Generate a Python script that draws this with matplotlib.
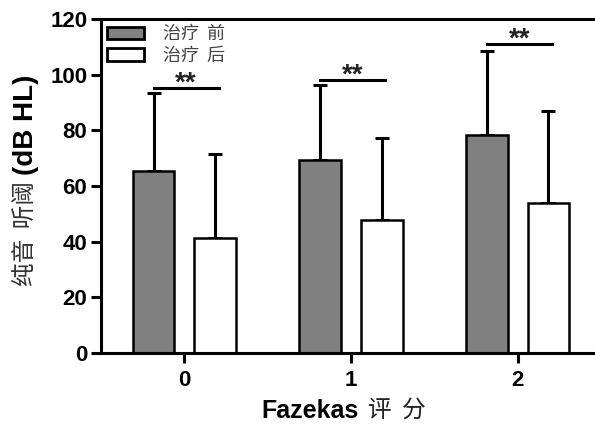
import numpy as np
import matplotlib.pyplot as plt
from matplotlib.patches import Patch

plt.rcParams["font.family"] = ["Liberation Sans", "Noto Sans CJK SC", "DejaVu Sans"]

# 数据
groups = ["0", "1", "2"]
before_mean = [65.5, 69.3, 78.3]
before_sd = [28.0, 27.1, 30.2]
after_mean = [41.3, 47.8, 54.0]
after_sd = [30.2, 29.5, 33.1]
sig_y = [95.2, 98.1, 111.0]
sig_text = ["**", "**", "**"]
legend_labels = ["治疗  前", "治疗  后"]

x = np.arange(len(groups))
w = 0.25
off = 0.185

fig = plt.figure(figsize=(5.95, 4.3), dpi=100)
ax = fig.add_axes([0.170, 0.179, 0.840, 0.777])

ax.bar(x - off, before_mean, w, color="#808080", edgecolor="black", linewidth=1.8, zorder=2)
ax.bar(x + off, after_mean, w, color="white", edgecolor="black", linewidth=1.8, zorder=2)
ax.errorbar(x - off, before_mean, yerr=[np.zeros(3), before_sd], fmt="none",
            ecolor="black", elinewidth=2.2, capsize=4.7, capthick=2.2, zorder=1)
ax.errorbar(x + off, after_mean, yerr=[np.zeros(3), after_sd], fmt="none",
            ecolor="black", elinewidth=2.2, capsize=4.7, capthick=2.2, zorder=1)

# 显著性标记
for i in range(len(groups)):
    ax.plot([x[i] - off, x[i] + off + 0.02], [sig_y[i], sig_y[i]], color="black", lw=2.2)
    ax.text(x[i] + 0.01, sig_y[i] - 3.2, sig_text[i], ha="center", va="bottom",
            fontsize=20, fontweight="bold", color="#222222")

ax.set_xlim(-0.5, 2.5)
ax.set_ylim(0, 120)
ax.set_yticks(range(0, 121, 20))
ax.set_xticks(x)
ax.set_xticklabels(groups)
for s in ax.spines.values():
    s.set_linewidth(2.2)
ax.tick_params(axis="both", direction="out", length=7, width=2.2, labelsize=16, pad=3)
ax.tick_params(axis="x", pad=5)
for t in ax.get_xticklabels() + ax.get_yticklabels():
    t.set_fontweight("bold")

handles = [Patch(facecolor="#808080", edgecolor="black", linewidth=2.0),
           Patch(facecolor="white", edgecolor="black", linewidth=2.0)]
leg = ax.legend(handles, legend_labels, loc="upper left", frameon=False,
                prop={"family": "Noto Sans CJK SC", "size": 13},
                handlelength=2.0, handleheight=0.7, handletextpad=1.1,
                labelspacing=0.2, borderaxespad=0.1, borderpad=0.25)
for t in leg.get_texts():
    t.set_color("#444444")

# 坐标轴标题（中英文混排）
fig.text(0.603, 0.045, "Fazekas", ha="right", va="center", fontsize=18, fontweight="bold")
fig.text(0.618, 0.045, "评  分", ha="left", va="center", fontsize=17,
         family="Noto Sans CJK SC", color="#222222")
fig.text(0.043, 0.592, "(dB HL)", rotation=90, ha="center", va="bottom",
         fontsize=20, fontweight="bold")
fig.text(0.043, 0.580, "纯音  听阈", rotation=90, ha="center", va="top",
         fontsize=17, family="Noto Sans CJK SC", color="#333333")

fig.savefig("out.png", dpi=100)
